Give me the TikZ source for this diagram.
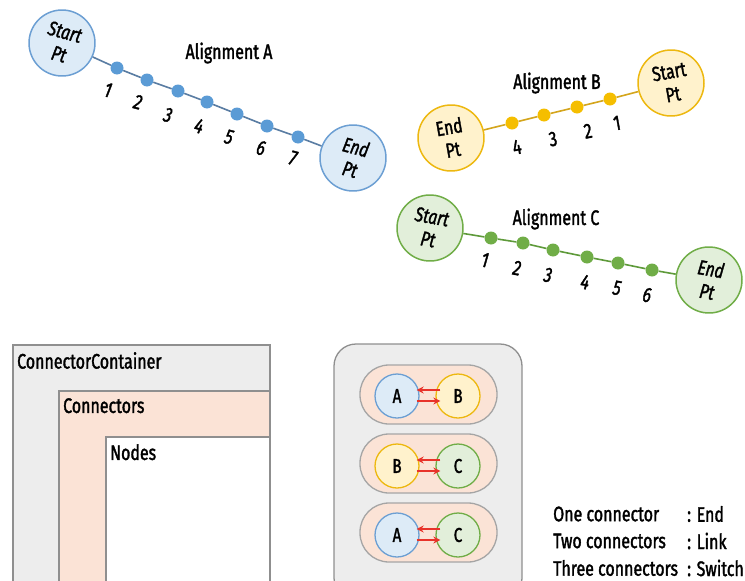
\documentclass[tikz,border=0pt]{standalone}
\usepackage{fontspec}
\setmainfont{Fira Sans}[FakeStretch=0.76, FakeBold=1.6]
\usetikzlibrary{arrows.meta,calc}
\definecolor{blueF}{HTML}{DDEBF7}
\definecolor{blueS}{HTML}{6C9FD3}
\definecolor{blueD}{HTML}{5B9BD5}
\definecolor{blueL}{HTML}{5A7DA3}
\definecolor{yelF}{HTML}{FFF2CC}
\definecolor{yelS}{HTML}{EDB810}
\definecolor{yelD}{HTML}{F5BE00}
\definecolor{yelL}{HTML}{D4A51C}
\definecolor{grnF}{HTML}{E2EFDA}
\definecolor{grnS}{HTML}{70AD47}
\definecolor{grnD}{HTML}{70AD47}
\definecolor{grnL}{HTML}{5E9A3A}
\definecolor{boxG}{HTML}{EDEDED}
\definecolor{boxP}{HTML}{FBE3D6}
\definecolor{bord}{HTML}{8F8F8F}
\definecolor{redA}{HTML}{E8332A}
\tikzset{
  txt/.style={font=\fontsize{21}{24}\selectfont, inner sep=0pt},
  endpt/.style={circle, line width=1.5pt, minimum size=66pt, inner sep=0pt, align=center, font=\fontsize{20.5}{23}\selectfont},
  ptA/.style={endpt, draw=blueS, fill=blueF, font=\fontsize{20.5}{23}\selectfont\itshape},
  ptB/.style={endpt, draw=yelS, fill=yelF},
  ptC/.style={endpt, draw=grnS, fill=grnF, font=\fontsize{20.5}{23}\selectfont\itshape},
  dotbase/.style={circle, minimum size=13pt, inner sep=0pt},
  dA/.style={dotbase, fill=blueD}, dB/.style={dotbase, fill=yelD}, dC/.style={dotbase, fill=grnD},
  lA/.style={draw=blueL, line width=1.6pt}, lB/.style={draw=yelL, line width=1.6pt}, lC/.style={draw=grnL, line width=1.6pt},
  numI/.style={txt, font=\fontsize{21}{24}\selectfont\itshape},
  numU/.style={txt},
  pill/.style={draw=bord!80, fill=boxP, line width=1.3pt, rounded corners=29pt},
  small/.style={circle, minimum size=44pt, inner sep=0pt, line width=1.3pt, font=\fontsize{20}{22}\selectfont},
  sA/.style={small, draw=blueS, fill=blueF},
  sB/.style={small, draw=yelS, fill=yelF},
  sC/.style={small, draw=grnS, fill=grnF},
  rarr/.style={draw=redA, line width=1.6pt, -{Stealth[length=7pt,width=7pt]}},
  lbl/.style={txt, anchor=north west}
}
\begin{document}
\begin{tikzpicture}[x=1pt,y=-1pt]
\useasboundingbox (0,0) rectangle (745,581);
\fill[white] (0,0) rectangle (745,581);

% ---------- Alignment A
\node[ptA, rotate=-15] (AS) at (62,43) {Start\\Pt};
\node[ptA, rotate=-15] (AE) at (353,158) {End\\Pt};
\node[dA] (a1) at (117,68) {};
\node[dA] (a2) at (147,80) {};
\node[dA] (a3) at (178,91) {};
\node[dA] (a4) at (207,102) {};
\node[dA] (a5) at (237,114) {};
\node[dA] (a6) at (267,126) {};
\node[dA] (a7) at (298,137) {};
\draw[lA] (AS) -- (a1) -- (a2) -- (a3) -- (a4) -- (a5) -- (a6) -- (a7) -- (AE);
\node[numI, rotate=-15] (na1) at (108,90) {1};
\node[numI, rotate=-15] (na2) at (138,102) {2};
\node[numI, rotate=-15] (na3) at (168,115) {3};
\node[numI, rotate=-15] (na4) at (199,126) {4};
\node[numI, rotate=-15] (na5) at (229,137) {5};
\node[numI, rotate=-15] (na6) at (261,148) {6};
\node[numI, rotate=-15] (na7) at (293,158) {7};
\node[txt] (tA) at (229,53) {Alignment A};

% ---------- Alignment B
\node[ptB, rotate=10] (BE) at (451,138) {End\\Pt};
\node[ptB, rotate=10] (BS) at (671,83) {Start\\Pt};
\node[dB] (b4) at (512,123) {};
\node[dB] (b3) at (544,115) {};
\node[dB] (b2) at (577,107) {};
\node[dB] (b1) at (610,99) {};
\draw[lB] (BE) -- (b4) -- (b3) -- (b2) -- (b1) -- (BS);
\node[numU, rotate=10] (nb4) at (517,147) {4};
\node[numU, rotate=10] (nb3) at (553,139) {3};
\node[numU, rotate=10] (nb2) at (588,131) {2};
\node[numU, rotate=10] (nb1) at (617,123) {1};
\node[txt] (tB) at (557,83) {Alignment B};

% ---------- Alignment C
\node[ptC, rotate=-10] (CS) at (430,228) {Start\\Pt};
\node[ptC, rotate=-10] (CE) at (709,280) {End\\Pt};
\node[dC] (c1) at (491,238) {};
\node[dC] (c2) at (523,243) {};
\node[dC] (c3) at (553,250) {};
\node[dC] (c4) at (587,257) {};
\node[dC] (c5) at (618,263) {};
\node[dC] (c6) at (652,270) {};
\draw[lC] (CS) -- (c1) -- (c2) -- (c3) -- (c4) -- (c5) -- (c6) -- (CE);
\node[numI, rotate=-10] (nc1) at (485,260) {1};
\node[numI, rotate=-10] (nc2) at (517,268) {2};
\node[numI, rotate=-10] (nc3) at (548,275) {3};
\node[numI, rotate=-10] (nc4) at (585,282) {4};
\node[numI, rotate=-10] (nc5) at (617,288) {5};
\node[numI, rotate=-10] (nc6) at (647,295) {6};
\node[txt] (tC) at (556,219) {Alignment C};

% ---------- Nested boxes
\draw[bord, fill=boxG, line width=1.3pt] (13,345) rectangle (270,590);
\draw[bord, fill=boxP, line width=1.3pt] (59,391) rectangle (270,590);
\draw[bord, fill=white, line width=1.3pt] (106,437) rectangle (270,590);
\node[lbl] (lcc) at (17,352) {ConnectorContainer};
\node[lbl] (lco) at (63,398) {Connectors};
\node[lbl] (lno) at (110,444) {Nodes};

% ---------- Panel
\draw[bord, fill=boxG, line width=1.3pt, rounded corners=22pt] (334,344) rectangle (522,600);
\draw[pill] (360,365) rectangle (497,424);
\draw[pill] (360,434) rectangle (497,493);
\draw[pill] (360,503) rectangle (497,562);
\node[sA] (p1a) at (397,396) {A};
\node[sB] (p1b) at (458,396) {B};
\node[sB] (p2a) at (397,466) {B};
\node[sC] (p2b) at (458,466) {C};
\node[sA] (p3a) at (397,535) {A};
\node[sC] (p3b) at (458,535) {C};
\foreach \l/\r in {p1a/p1b,p2a/p2b,p3a/p3b}{
  \draw[rarr] ([xshift=5pt,yshift=6pt]\r.west) -- ([xshift=-3pt,yshift=6pt]\l.east);
  \draw[rarr] ([xshift=-3pt,yshift=-5pt]\l.east) -- ([xshift=5pt,yshift=-5pt]\r.west);
}

% ---------- Legend
\node[txt, anchor=west] (g1) at (553,514) {One connector};
\node[txt, anchor=west] (g2) at (553,541) {Two connectors};
\node[txt, anchor=west] (g3) at (553,568) {Three connectors};
\node[txt, anchor=west] (h1) at (687,514) {: End};
\node[txt, anchor=west] (h2) at (687,541) {: Link};
\node[txt, anchor=west] (h3) at (687,568) {: Switch};
\end{tikzpicture}
\end{document}
